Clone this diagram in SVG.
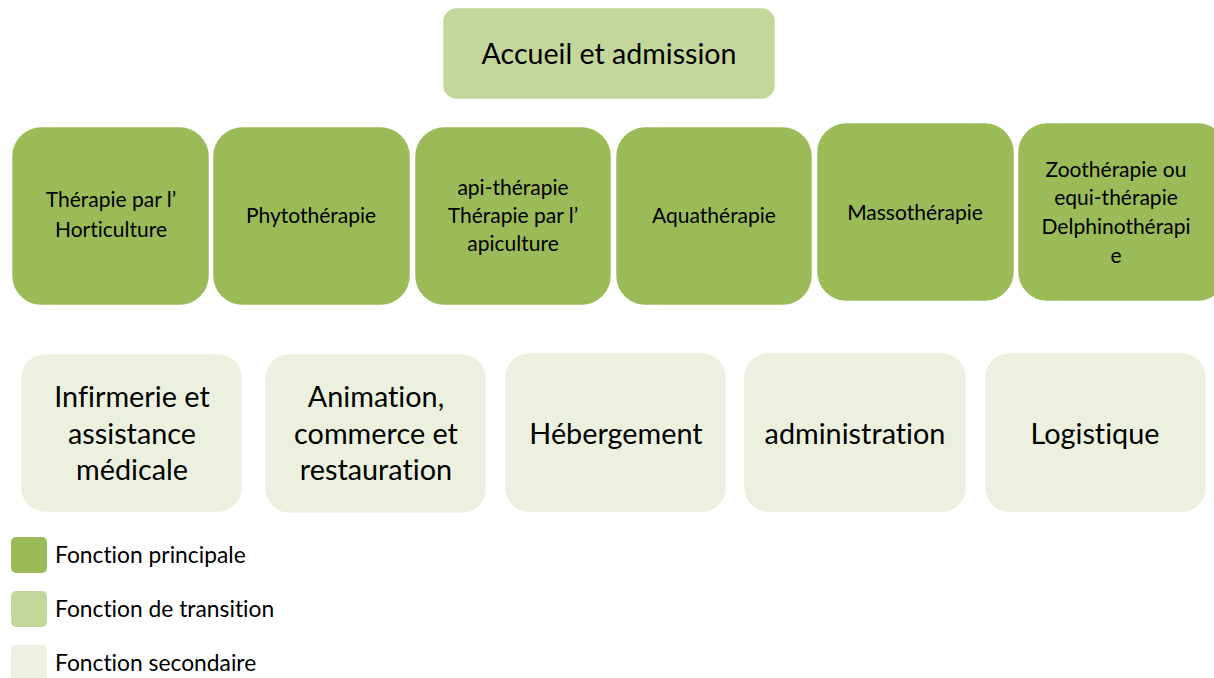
<svg xmlns="http://www.w3.org/2000/svg" width="1214" height="678" viewBox="0 0 1214 678">
<style>
text{font-family:Lato,"Open Sans",sans-serif;fill:#000;text-anchor:middle;font-variant-ligatures:none}
.p{fill:#9BBB59;stroke:#fff;stroke-width:1.5}
.t{fill:#C4D79B;stroke:#fff;stroke-width:1.5}
.s{fill:#EBF1DE;stroke:#fff;stroke-width:1.5}
.f18{font-size:21px}
.f26{font-size:28.6px}
.f28{font-size:28.8px}
.lg{font-size:22.8px;text-anchor:start}
</style>
<rect width="1214" height="678" fill="#fff"/>
<g id="connectors"></g>
<g id="accueil"><rect class="t" x="442.5" y="7.5" width="333" height="92" rx="14"/><text class="f26" x="609" y="64">Accueil et admission</text></g>
<g id="horticulture"><rect class="p" x="11.5" y="126.5" width="198" height="179" rx="30"/><text class="f18"><tspan x="111" y="207">Thérapie par l’</tspan><tspan x="111" y="237">Horticulture</tspan></text></g>
<g id="phyto"><rect class="p" x="212.5" y="126.5" width="198" height="179" rx="30"/><text class="f18" x="311" y="223">Phytothérapie</text></g>
<g id="api"><rect class="p" x="414.5" y="126.5" width="197" height="179" rx="30"/><text class="f18"><tspan x="513" y="195">api-thérapie</tspan><tspan x="513" y="223">Thérapie par l’</tspan><tspan x="513" y="251">apiculture</tspan></text></g>
<g id="aqua"><rect class="p" x="615.5" y="126.5" width="197" height="179" rx="30"/><text class="f18" x="714" y="223">Aquathérapie</text></g>
<g id="masso"><rect class="p" x="816.5" y="122.5" width="198" height="179" rx="30"/><text class="f18" x="915" y="220">Massothérapie</text></g>
<g id="zoo"><rect class="p" x="1017.5" y="122.5" width="210" height="179" rx="30"/><text class="f18"><tspan x="1116" y="177">Zoothérapie ou</tspan><tspan x="1116" y="205">equi-thérapie</tspan><tspan x="1116" y="234">Delphinothérapi</tspan><tspan x="1116" y="263">e</tspan></text></g>
<g id="infirmerie"><rect class="s" x="20.5" y="353.5" width="222" height="159" rx="25"/><text class="f28"><tspan x="132" y="407">Infirmerie et</tspan><tspan x="132" y="444">assistance</tspan><tspan x="132" y="480">médicale</tspan></text></g>
<g id="animation"><rect class="s" x="264.5" y="353.5" width="222" height="160" rx="25"/><text class="f28"><tspan x="376" y="407">Animation,</tspan><tspan x="376" y="444">commerce et</tspan><tspan x="376" y="480">restauration</tspan></text></g>
<g id="hebergement"><rect class="s" x="504.5" y="352.5" width="222" height="160" rx="25"/><text class="f28" x="616" y="444">Hébergement</text></g>
<g id="administration"><rect class="s" x="743.5" y="352.5" width="223" height="160" rx="25"/><text class="f28" x="855" y="444">administration</text></g>
<g id="logistique"><rect class="s" x="984.5" y="352.5" width="222" height="160" rx="25"/><text class="f28" x="1095" y="444">Logistique</text></g>
<g id="legend">
<rect x="11" y="537" width="36" height="36" rx="5" fill="#9BBB59"/><text class="lg" x="55" y="563">Fonction principale</text>
<rect x="11" y="591" width="36" height="36" rx="5" fill="#C4D79B"/><text class="lg" x="55" y="617">Fonction de transition</text>
<rect x="11" y="645" width="36" height="40" rx="5" fill="#EBF1DE"/><text class="lg" x="55" y="671">Fonction secondaire</text>
</g>
</svg>
